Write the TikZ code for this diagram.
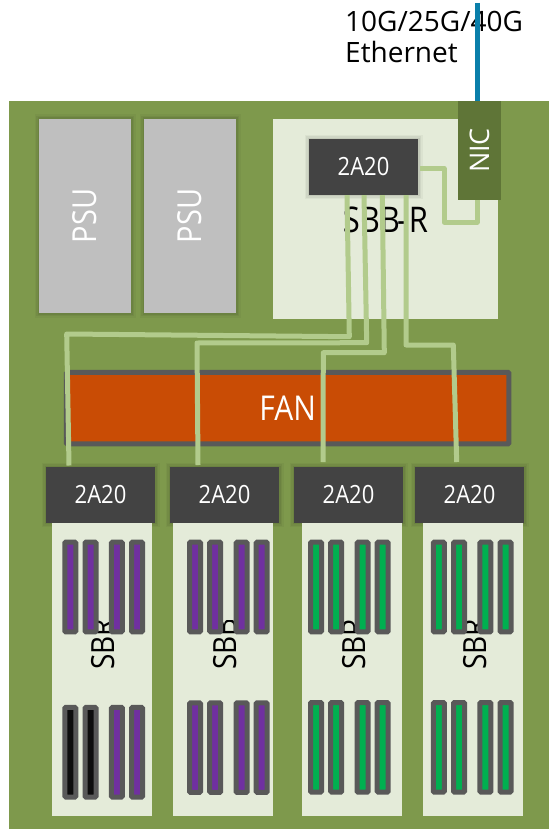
\documentclass[tikz,border=0pt]{standalone}
\usepackage{fontspec}
\setmainfont{Open Sans}
\definecolor{boardgreen}{HTML}{7E994C}
\definecolor{panelgreen}{HTML}{E4EBD9}
\definecolor{nicgreen}{HTML}{5F7537}
\definecolor{linkgreen}{HTML}{B2CB8C}
\definecolor{chipgrey}{HTML}{434343}
\definecolor{dimmgrey}{HTML}{595959}
\definecolor{psugrey}{HTML}{BFBFBF}
\definecolor{fanorange}{HTML}{C94C05}
\definecolor{ethblue}{HTML}{0A7FAA}
\definecolor{dimmpurple}{HTML}{7030A0}
\definecolor{dimmgreen}{HTML}{00B050}
\definecolor{dimmblack}{HTML}{0D0D0D}
\providecommand{\talltext}[1]{\scalebox{1}[1.14]{#1}}
\tikzset{
    softshadow/.style={
        preaction={draw=#1!96!black,line width=9pt,rounded corners=3pt},
        preaction={draw=#1!91!black,line width=6pt,rounded corners=2pt},
        preaction={draw=#1!85!black,line width=3pt}},
    chip/.style={fill=chipgrey,text=white,minimum width=109pt,minimum height=55.7pt,inner sep=0,softshadow=#1,font=\fontsize{22}{26}\selectfont},
    psu/.style={fill=psugrey,text=white,rotate=90,minimum width=194pt,minimum height=92pt,inner sep=0,softshadow=boardgreen,font=\fontsize{29}{36}\selectfont},
    dimm/.style={draw=dimmgrey,fill=#1,line width=5pt,rounded corners=1pt,minimum width=11pt,minimum height=89.6pt,inner sep=0},
    bladelabel/.style={rotate=90,anchor=base west,inner sep=0,font=\fontsize{28}{34}\selectfont},
    link/.style={draw=linkgreen,line width=5pt,line join=round},
}
\begin{document}
\begin{tikzpicture}[x=1pt,y=-1pt]
    \pgfmathsetmacro{\bladewidth}{100}
    \pgfmathsetmacro{\bladetop}{522.7}
    \pgfmathsetmacro{\bladebottom}{815.6}
    \pgfmathsetmacro{\upperrow}{587}
    \useasboundingbox (0,0) rectangle (549,829);
    \fill[boardgreen] (9,101) rectangle (549,829);
    \node[psu] (psuA) at (85,216) {\talltext{PSU}};
    \node[psu] (psuB) at (190,216) {\talltext{PSU}};
    \fill[panelgreen] (273,119) rectangle (498,319);
    \node[anchor=base,inner sep=0,font=\fontsize{31}{36}\selectfont] (sbbr) at (385.5,232) {\talltext{SBB\kern-3pt-\kern2pt R}};
    \node[chip=panelgreen] (rootchip) at (363.5,167) {\talltext{2A20}};
    \node[fill=nicgreen,text=white,rotate=90,minimum width=99pt,minimum height=42.7pt,inner sep=0,font=\fontsize{27}{32}\selectfont] (nic) at (479.4,150.5) {NIC};
    \node[draw=dimmgrey,fill=fanorange,text=white,line width=5pt,rounded corners=1pt,minimum width=442.5pt,minimum height=71.5pt,inner sep=0,font=\fontsize{30}{36}\selectfont] (fan) at (287.7,408.2) {\talltext{FAN}};
    \node[anchor=base west,inner sep=0,font=\fontsize{28}{30.7}\selectfont,align=left] (ethlabel) at (345,62.7) {10G/25G/40G\\Ethernet};
    \node[chip=boardgreen] (chipA) at (100.5,494.9) {\talltext{2A20}};
    \node[chip=boardgreen] (chipB) at (224.5,494.9) {\talltext{2A20}};
    \node[chip=boardgreen] (chipC) at (348.5,494.9) {\talltext{2A20}};
    \node[chip=boardgreen] (chipD) at (469.5,494.9) {\talltext{2A20}};
    % blades: left edge, first stick, label baseline, lower row, colours
    \foreach \bladeid/\bladex/\stickx/\labelx/\labeltext/\lowery/\uppercolor/\lowerleft/\lowerright in {
        A/52/10.3/114/SBR/752.2/dimmpurple/dimmblack/dimmpurple,
        B/173/14/236/SBB/747.6/dimmpurple/dimmpurple/dimmpurple,
        C/302/6/365/SBR/747.3/dimmgreen/dimmgreen/dimmgreen,
        D/423/7.8/486/SBR/747.3/dimmgreen/dimmgreen/dimmgreen}{
        \fill[panelgreen] (\bladex,\bladetop) rectangle (\bladex+\bladewidth,\bladebottom);
        \begin{scope}
            \clip (\bladex,620) rectangle (\bladex+\bladewidth,700);
            \node[bladelabel] (label\bladeid) at (\labelx,670) {\talltext{\labeltext}};
        \end{scope}
        \foreach \stickid/\stickshift in {a/0,b/20.2}{
            \node[dimm=\uppercolor] (upper\bladeid\stickid) at (\bladex+\stickx+\stickshift+8,\upperrow) {};
            \node[dimm=\lowerleft] (lower\bladeid\stickid) at (\bladex+\stickx+\stickshift+8,\lowery) {};
        }
        \foreach \stickid/\stickshift in {c/46.6,d/66.7}{
            \node[dimm=\uppercolor] (upper\bladeid\stickid) at (\bladex+\stickx+\stickshift+8,\upperrow) {};
            \node[dimm=\lowerright] (lower\bladeid\stickid) at (\bladex+\stickx+\stickshift+8,\lowery) {};
        }
    }
    % links
    \coordinate (endA) at (69,465.5);
    \coordinate (endB) at (198,465);
    \coordinate (endC) at (323,462);
    \coordinate (endD) at (456.7,462);
    \draw[link] (rootchip.south -| 347,0) -- (349.3,336.7) -- (66.7,334) -- (endA);
    \draw[link] (rootchip.south -| 364,0) -- (366.7,342.7) -- (197,343) -- (endB);
    \draw[link] (rootchip.south -| 382.3,0) -- (384.3,352.7) -- (323.3,352.7) -- (endC);
    \draw[link] (rootchip.south -| 406,0) -- (406,345) -- (453.3,345) -- (endD);
    \coordinate (nicout) at (420,168.5);
    \draw[link] (nicout) -- (444,168.5) -- (444,222) -- (477,222) -- (nic.west -| 477,0);
    \coordinate (ethend) at (477.7,3);
    \draw[ethblue,line width=5pt] (ethend) -- (nic.east -| ethend);
\end{tikzpicture}
\end{document}
